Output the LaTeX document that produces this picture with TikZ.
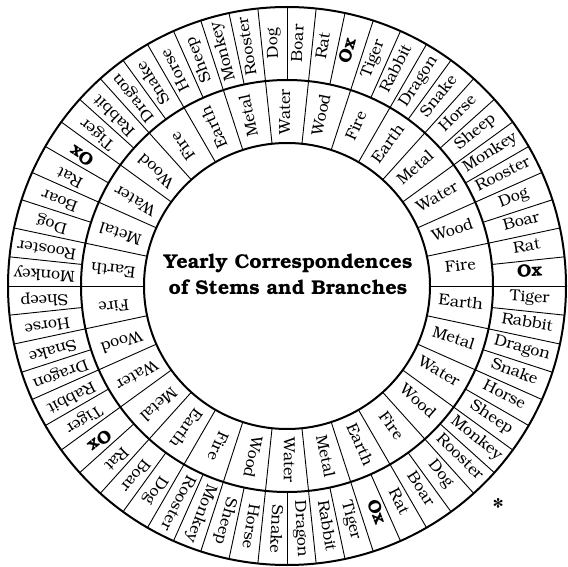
\documentclass[tikz,border=0pt]{standalone}
\usepackage[T1]{fontenc}
\usepackage{bookman}
\newcommand\oxlabel{{\fontsize{18}{18}\selectfont\bfseries Ox}}
\tikzset{
  ringline/.style={line width=2pt},
  spoke/.style={line width=0.9pt},
  lbl/.style={inner sep=0pt, anchor=center, text height=0.72em, text depth=0.1em,
              font=\fontsize{16}{16}\selectfont},
  titletext/.style={align=center, inner sep=0pt,
              font=\fontsize{20}{26}\selectfont\bfseries},
}
\begin{document}
\begin{tikzpicture}[x=1pt,y=1pt]
\useasboundingbox (0,0) rectangle (568,566);
\begin{scope}[shift={(287,280)}]
  \def\Ro{279}
  \def\Rm{206}
  \def\Ri{143}
  % spokes of the outer ring (every 6 degrees)
  \foreach \k in {0,...,59} {
    \draw[spoke] (-6*\k:\Rm) -- (-6*\k:\Ro);
  }
  % spokes of the inner ring (every 12 degrees)
  \foreach \k in {0,...,29} {
    \draw[spoke] (-12*\k:\Ri) -- (-12*\k:\Rm);
  }
  % circles
  \draw[ringline] (0,0) circle (\Ro);
  \draw[ringline] (0,0) circle (\Rm);
  \draw[ringline] (0,0) circle (\Ri);
  % branches (outer ring)
  \foreach \c in {0,...,4} {
    \foreach \n [count=\m from 0] in {Tiger,Rabbit,Dragon,Snake,Horse,Sheep,Monkey,Rooster,Dog,Boar,Rat,\oxlabel} {
      \pgfmathsetmacro\ang{-6*(12*\c+\m)-3}
      \node[lbl, rotate=\ang] (o\c-\m) at (\ang:243) {\n};
    }
  }
  % stems (inner ring)
  \foreach \c in {0,...,5} {
    \foreach \n [count=\m from 0] in {Earth,Metal,Water,Wood,Fire} {
      \pgfmathsetmacro\ang{-12*(5*\c+\m)-6}
      \node[lbl, rotate=\ang] (i\c-\m) at (\ang:174.5) {\n};
    }
  }
\end{scope}
\node[titletext] (title) at (288,291) {Yearly Correspondences\\of Stems and Branches};
\node[inner sep=0pt, font=\fontsize{26}{26}\selectfont\bfseries] (star) at (498,59) {*};
\end{tikzpicture}
\end{document}
